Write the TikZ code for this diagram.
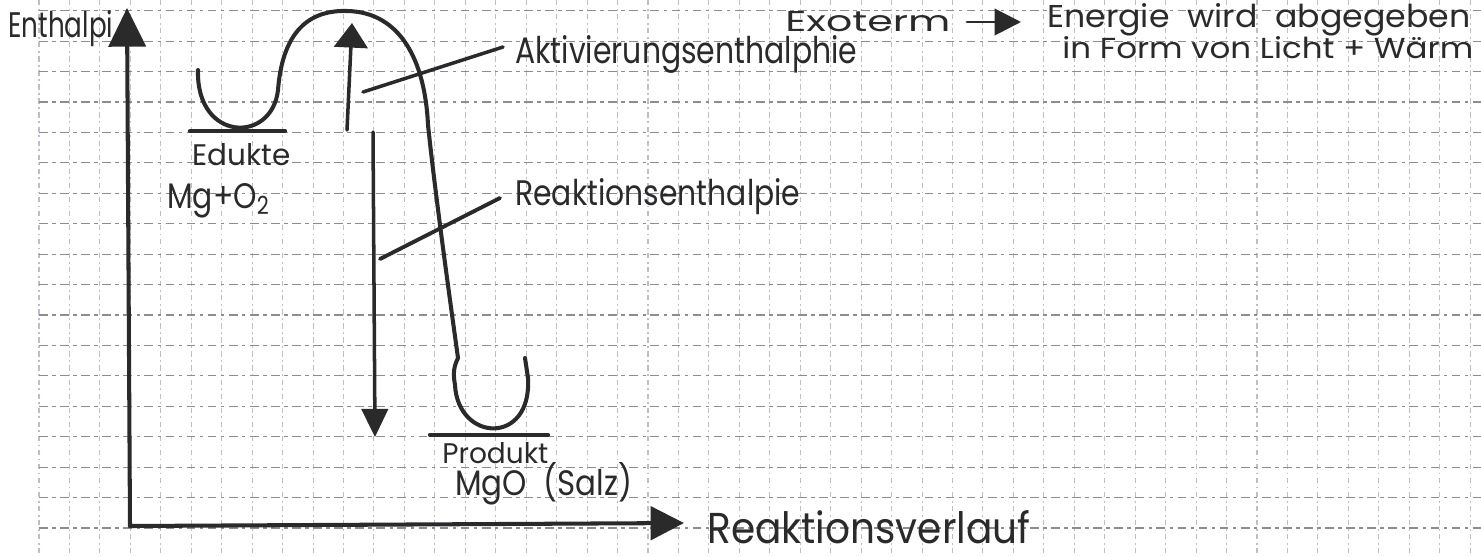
\documentclass[tikz,border=0pt]{standalone}
\usepackage{fontspec}
\setmainfont{Poppins}
\usetikzlibrary{arrows.meta}
\newlength\pxu
\setlength\pxu{0.02cm}
\newcommand{\hw}[3]{\resizebox{#1\pxu}{#2\pxu}{#3}}
\definecolor{inkc}{HTML}{2A2A2A}
\definecolor{gridc}{HTML}{8C8C92}
\definecolor{gridl}{HTML}{BDBDCB}
\begin{document}
\begin{tikzpicture}[x=0.02cm,y=-0.02cm,
  ink/.style={draw=inkc, line width=2pt, line cap=round, line join=round},
  curve/.style={ink, line width=2.3pt},
  axisline/.style={ink, line width=2.3pt},
  lbl/.style={inner sep=0pt, anchor=base west, text=inkc},
  gridh/.style={draw=gridc, line width=0.6pt, dash pattern=on 5pt off 2.5pt on 2pt off 2.5pt},
  gridv/.style={draw=gridl, line width=0.6pt, dash pattern=on 3pt off 2pt on 1pt off 2pt}]
\useasboundingbox (0,0) rectangle (1481,556);
\fill[white] (0,0) rectangle (1481,556);
% grid paper
\foreach \i in {0,...,47} \draw[gridv] ({39+30.45*\i},0) -- ({39+30.45*\i},556);
\foreach \j in {0,...,18} \draw[gridh] (39,{10.7+30.43*\j}) -- (1481,{10.7+30.43*\j});

% labels
\node[lbl] (enthalpie) at (8,37) {\hw{105}{27}{Enthalpi}};
\node[lbl] (edukte) at (192,165) {\hw{98}{22}{Edukte}};
\node[lbl] (mgo2) at (167,208) {\hw{103}{25}{Mg+O\textsubscript{2}}};
\node[lbl] (akt) at (515,63) {\hw{342}{28}{Aktivierungsenthalphie}};
\node[lbl] (reak) at (515,205) {\hw{285}{27}{Reaktionsenthalpie}};
\node[lbl] (produkt) at (442,463) {\hw{106}{21}{Produkt}};
\node[lbl] (mgo) at (455,495) {\hw{177}{33}{MgO\ \ (Salz)}};
\node[lbl] (verlauf) at (707,543) {\hw{323}{33}{Reaktionsverlauf}};
\node[lbl] (exo) at (785,31) {\hw{165}{20}{Exoterm}};
\node[lbl] (energie) at (1047,27) {\hw{423}{24}{Energie\ \ wird\ \ abgegeben}};
\node[lbl] (form) at (1062,58) {\hw{411}{22}{in Form von Licht + Wärm}};

% coordinates
\coordinate (O) at (130,526);
\coordinate (ytip) at (127,8);
\coordinate (xtip) at (684,523);
\coordinate (upS) at (347,130);
\coordinate (upE) at (352,23);
\coordinate (dnS) at (373,132);
\coordinate (dnE) at (375,437);
\coordinate (aktS) at (363,92);
\coordinate (aktE) at (503,47);
\coordinate (reakS) at (380,259);
\coordinate (reakE) at (500,198);
\coordinate (exoS) at (967,22);
\coordinate (exoE) at (1021,22);
\coordinate (eduL) at (190,131);
\coordinate (eduR) at (285,131);
\coordinate (proL) at (430,435);
\coordinate (proR) at (548,435);

% axes
\draw[axisline, -{Triangle[width=21pt,length=22pt]}] (O) -- (ytip);
\draw[axisline, -{Triangle[width=19pt,length=19pt]}] (O) -- (xtip);

% energy levels
\draw[ink, line width=2.4pt] (eduL) -- (eduR);
\draw[ink, line width=2.4pt] (proL) -- (proR);

% reaction curve
\draw[curve] (198,70) .. controls (196,142) and (272,144) .. (278,90)
  .. controls (283,25) and (315,10) .. (347,11)
  .. controls (400,12) and (425,60) .. (428,125)
  .. controls (436,200) and (450,300) .. (458,358)
  .. controls (452,370) and (454,378) .. (455,385)
  .. controls (458,442) and (532,446) .. (528,378)
  -- (525,358);

% enthalpy arrows
\draw[ink, line width=2pt, -{Triangle[width=19pt,length=14pt]}] (upS) -- (upE);
\draw[ink, line width=2pt, -{Triangle[width=15pt,length=16pt]}] (dnS) -- (dnE);

% pointer lines
\draw[ink, line width=2pt] (aktS) -- (aktE);
\draw[ink, line width=2.2pt] (reakS) -- (reakE);
\draw[ink, line width=1.6pt, -{Triangle[width=15pt,length=15pt]}] (exoS) -- (exoE);
\end{tikzpicture}
\end{document}
